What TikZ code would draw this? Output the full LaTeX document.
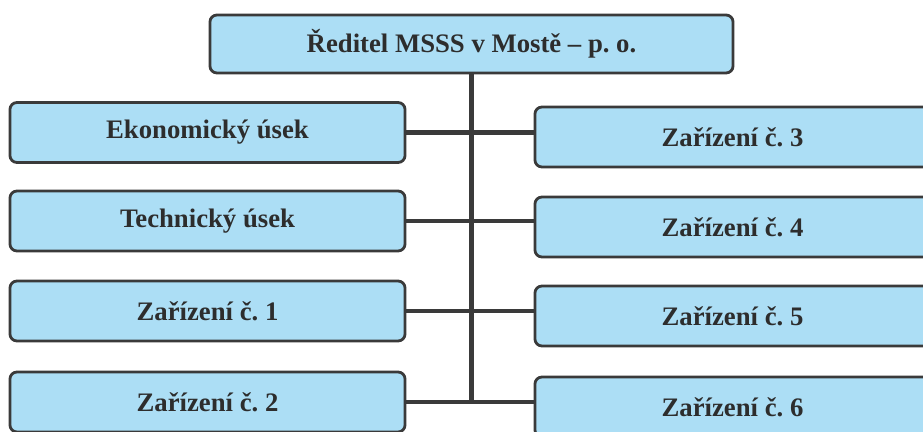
\documentclass[tikz,border=0pt]{standalone}
\usepackage{fontspec}
\setmainfont{Liberation Serif}
\definecolor{boxfill}{RGB}{172,222,245}
\definecolor{boxline}{RGB}{58,58,58}
\definecolor{ink}{RGB}{45,45,45}
\frenchspacing
\begin{document}
\begin{tikzpicture}[x=0.025cm, y=-0.025cm, thick]
\tikzstyle{unit}=[draw=boxline,line width=2pt,fill=boxfill,rounded corners=5pt,
  minimum width=9.875cm,minimum height=1.5cm,text=ink,
  font=\bfseries\fontsize{19}{22}\selectfont]
\tikzstyle{link}=[draw=boxline,line width=3.2pt]
\useasboundingbox (0,0) rectangle (923,432);
  \node[unit,minimum width=13.075cm,minimum height=1.45cm] (head) at (471.5,44)
    {Ředitel MSSS v Mostě – p. o.};
  \foreach \place/\name/\txt in {{(207.5,132.5)/ek/Ekonomický úsek},
                                 {(207.5,221)/tech/Technický úsek},
                                 {(207.5,311)/z1/Zařízení č. 1},
                                 {(207.5,402)/z2/Zařízení č. 2},
                                 {(732.5,137)/z3/Zařízení č. 3},
                                 {(732.5,227)/z4/Zařízení č. 4},
                                 {(732.5,316)/z5/Zařízení č. 5},
                                 {(732.5,407)/z6/Zařízení č. 6}}
    \node[unit] (\name) at \place {\txt};
  \coordinate (foot) at (head.south |- 0,403);
  \draw[link] (head.south) -- (foot);
  \foreach \source/\dest in {ek/z3,tech/z4,z1/z5,z2/z6}
      \draw[link] (\source.east) -- (\dest.west |- \source.east);
\end{tikzpicture}
\end{document}
